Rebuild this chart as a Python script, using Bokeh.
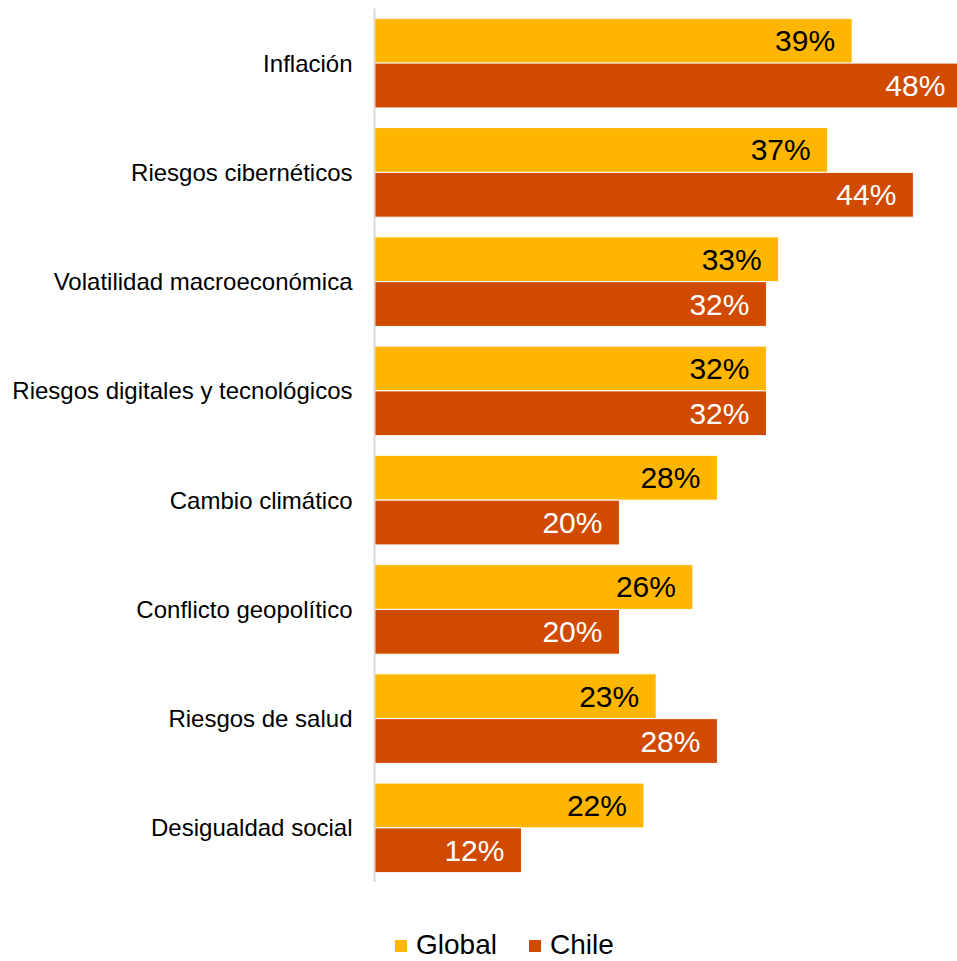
from bokeh.plotting import figure
from bokeh.models import ColumnDataSource, FactorRange, Legend, LegendItem
from bokeh.layouts import column
from bokeh.transform import dodge
from bokeh.core.properties import value
from bokeh.embed import file_html
from bokeh.resources import INLINE

categories = ["Inflación", "Riesgos cibernéticos", "Volatilidad macroeconómica",
              "Riesgos digitales y tecnológicos", "Cambio climático",
              "Conflicto geopolítico", "Riesgos de salud", "Desigualdad social"]
global_vals = [39, 37, 33, 32, 28, 26, 23, 22]
chile_vals = [48, 44, 32, 32, 20, 20, 28, 12]
series_names = ["Global", "Chile"]

FONT = "Liberation Sans"
YELLOW = "#FFB600"
ORANGE = "#D04A02"

src = ColumnDataSource(dict(
    cat=categories,
    g=global_vals,
    c=chile_vals,
    gl=[f"{v}%" for v in global_vals],
    cl=[f"{v}%" for v in chile_vals],
))

p = figure(frame_width=583, frame_height=874, output_backend="svg", toolbar_location=None,
           y_range=FactorRange(factors=list(reversed(categories)), range_padding=0),
           x_range=(0, 47.6))
p.min_border_left = 374
p.min_border_right = 0
p.min_border_top = 8
p.min_border_bottom = 0
p.outline_line_color = None
p.grid.visible = False
p.xaxis.visible = False

r1 = p.hbar(y=dodge("cat", 0.205, range=p.y_range), right="g", left=0, height=0.41,
            source=src, fill_color=YELLOW, line_color="white", line_width=1)
r2 = p.hbar(y=dodge("cat", -0.205, range=p.y_range), right="c", left=0, height=0.41,
            source=src, fill_color=ORANGE, line_color="white", line_width=1)

p.text(x="g", y=dodge("cat", 0.205, range=p.y_range), text="gl", source=src,
       text_align="right", text_baseline="middle", x_offset=-17,
       text_font=value(FONT), text_font_size="30px", text_color="black")
p.text(x="c", y=dodge("cat", -0.205, range=p.y_range), text="cl", source=src,
       text_align="right", text_baseline="middle", x_offset=-17,
       text_font=value(FONT), text_font_size="30px", text_color="white")

ya = p.yaxis[0]
ya.axis_line_color = "#d9d9d9"
ya.axis_line_width = 2
ya.major_tick_line_color = None
ya.minor_tick_line_color = None
ya.major_label_standoff = 16
ya.major_label_text_font = FONT
ya.major_label_text_font_size = "24px"
ya.major_label_text_color = "black"

# legend strip below the chart (its bars lie outside its visible x range)
pl = figure(width=957, height=79, output_backend="svg", toolbar_location=None,
            x_range=(-2, -1), y_range=(0, 1))
pl.min_border = 0
pl.outline_line_color = None
pl.axis.visible = False
pl.grid.visible = False
lg1 = pl.hbar(y=0.5, right="g", left=0, height=0.5, source=src,
              fill_color=YELLOW, line_color=None)
lg2 = pl.hbar(y=0.5, right="c", left=0, height=0.5, source=src,
              fill_color=ORANGE, line_color=None)

legend = Legend(items=[LegendItem(label=series_names[0], renderers=[lg1]),
                       LegendItem(label=series_names[1], renderers=[lg2])],
                orientation="horizontal", location=(19, 0))
legend.border_line_color = None
legend.background_fill_alpha = 0
legend.glyph_width = 15
legend.glyph_height = 15
legend.label_text_font = FONT
legend.label_text_font_size = "28px"
legend.label_text_color = "black"
legend.label_standoff = 8
legend.spacing = 30
legend.margin = 0
legend.padding = 0
pl.add_layout(legend, "center")

layout = column(p, pl, spacing=0)
open("out.html", "w").write(file_html(layout, INLINE))
